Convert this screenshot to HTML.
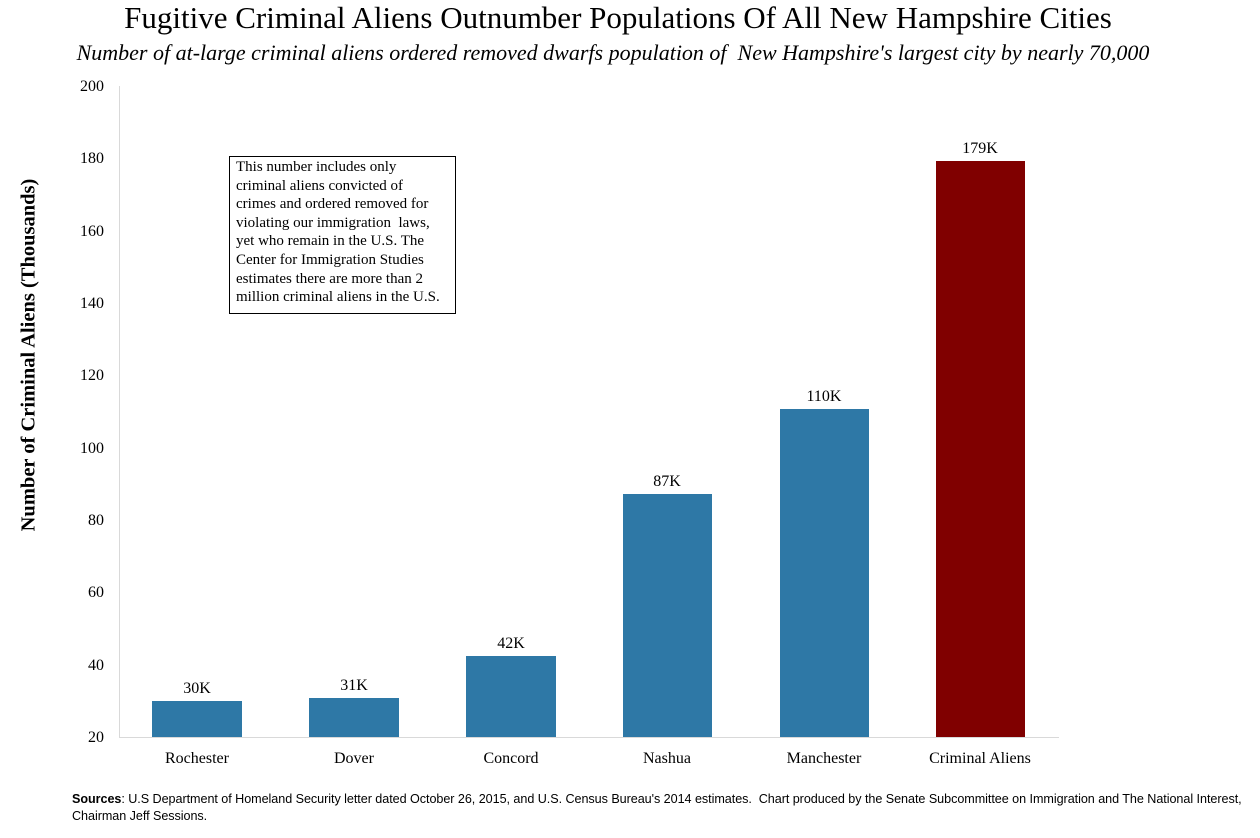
<!DOCTYPE html>
<html><head><meta charset="utf-8"><style>
body{margin:0;width:1260px;height:838px;background:#fff;position:relative;overflow:hidden;font-family:"Liberation Serif",serif;color:#000}
.a{position:absolute;white-space:nowrap}
.bar{position:absolute;background:#2e78a6}
.yl{position:absolute;left:60px;width:44px;text-align:right;font-size:16px}
.xl{position:absolute;top:750px;width:160px;text-align:center;font-size:16px}
.vl{position:absolute;width:120px;text-align:center;font-size:16px}
</style></head><body>
<div class="a" style="left:0;width:1236px;text-align:center;top:0px;font-size:31px">Fugitive Criminal Aliens Outnumber Populations Of All New Hampshire Cities</div>
<div class="a" style="left:0;width:1226px;text-align:center;top:40px;font-size:22px;font-style:italic">Number of at-large criminal aliens ordered removed dwarfs population of &nbsp;New Hampshire's largest city by nearly 70,000</div>
<div class="a" style="left:29px;top:355px;transform:translate(-50%,-50%) rotate(-90deg);font-size:20.5px;font-weight:bold">Number of Criminal Aliens (Thousands)</div>
<div style="position:absolute;left:119px;top:86px;width:1px;height:652px;background:#d9d9d9"></div>
<div style="position:absolute;left:119px;top:737px;width:940px;height:1px;background:#d9d9d9"></div>
<div class="yl" style="top:78px">200</div>
<div class="yl" style="top:150px">180</div>
<div class="yl" style="top:223px">160</div>
<div class="yl" style="top:295px">140</div>
<div class="yl" style="top:367px">120</div>
<div class="yl" style="top:440px">100</div>
<div class="yl" style="top:512px">80</div>
<div class="yl" style="top:584px">60</div>
<div class="yl" style="top:657px">40</div>
<div class="yl" style="top:729px">20</div>
<div class="bar" style="left:152px;top:701px;width:90px;height:36px"></div>
<div class="bar" style="left:309px;top:698px;width:90px;height:39px"></div>
<div class="bar" style="left:466px;top:656px;width:90px;height:81px"></div>
<div class="bar" style="left:623px;top:494px;width:89px;height:243px"></div>
<div class="bar" style="left:780px;top:409px;width:89px;height:328px"></div>
<div class="bar" style="left:936px;top:161px;width:89px;height:576px;background:#800000"></div>
<div class="vl" style="left:137px;top:680px">30K</div>
<div class="vl" style="left:294px;top:677px">31K</div>
<div class="vl" style="left:451px;top:635px">42K</div>
<div class="vl" style="left:607px;top:473px">87K</div>
<div class="vl" style="left:764px;top:388px">110K</div>
<div class="vl" style="left:920px;top:140px">179K</div>
<div class="xl" style="left:117px">Rochester</div>
<div class="xl" style="left:274px">Dover</div>
<div class="xl" style="left:431px">Concord</div>
<div class="xl" style="left:587px">Nashua</div>
<div class="xl" style="left:744px">Manchester</div>
<div class="xl" style="left:900px">Criminal Aliens</div>
<div style="position:absolute;left:229px;top:156px;width:215px;height:150px;border:1px solid #000;padding:1px 4px 5px 6px;font-size:15px;line-height:18.6px;white-space:nowrap">This number includes only<br>criminal aliens convicted of<br>crimes and ordered removed for<br>violating our immigration &nbsp;laws,<br>yet who remain in the U.S. The<br>Center for Immigration Studies<br>estimates there are more than 2<br>million criminal aliens in the U.S.</div>
<div class="a" style="left:72px;top:791px;font-family:'Liberation Sans',sans-serif;font-size:12.6px;line-height:17px;letter-spacing:-0.05px"><b>Sources</b>: U.S Department of Homeland Security letter dated October 26, 2015, and U.S. Census Bureau's 2014 estimates. &nbsp;Chart produced by the Senate Subcommittee on Immigration and The National Interest,<br>Chairman Jeff Sessions.</div>
</body></html>
